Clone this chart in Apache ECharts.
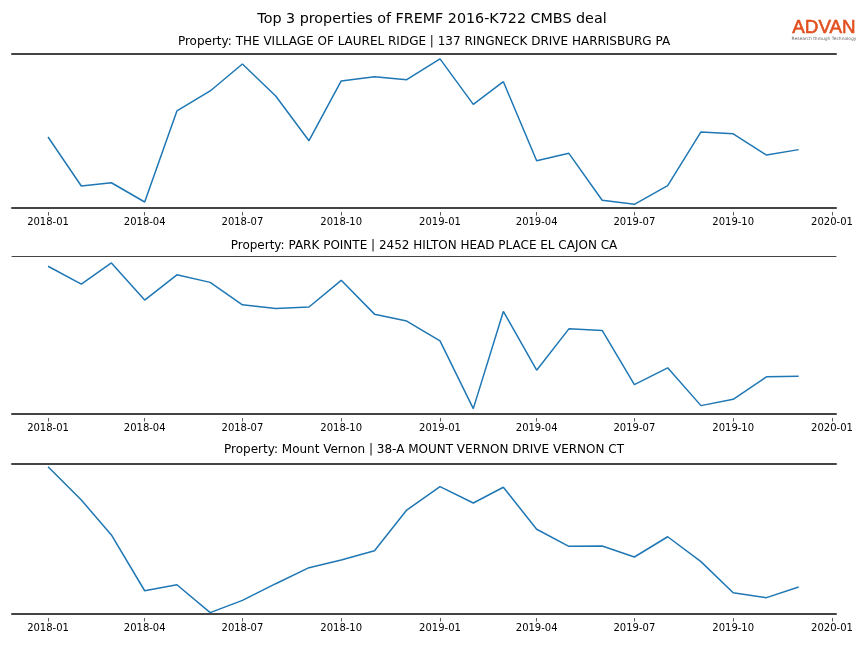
<!DOCTYPE html>
<html>
<head>
<meta charset="utf-8">
<script src="https://cdn.jsdelivr.net/npm/echarts@6/dist/echarts.min.js"></script>
<style>html,body{margin:0;padding:0;background:#fff}#c{width:864px;height:648px}</style>
</head>
<body>
<div id="c"></div>
<script>
const chartTitle = 'Top 3 properties of FREMF 2016-K722 CMBS deal';
const panelTitles = [
  'Property: THE VILLAGE OF LAUREL RIDGE | 137 RINGNECK DRIVE HARRISBURG PA',
  'Property: PARK POINTE | 2452 HILTON HEAD PLACE EL CAJON CA',
  'Property: Mount Vernon | 38-A MOUNT VERNON DRIVE VERNON CT'
];
const months = ['2018-01','2018-02','2018-03','2018-04','2018-05','2018-06','2018-07','2018-08','2018-09','2018-10','2018-11','2018-12',
                '2019-01','2019-02','2019-03','2019-04','2019-05','2019-06','2019-07','2019-08','2019-09','2019-10','2019-11','2019-12'];
const tickLabels = ['2018-01','2018-04','2018-07','2018-10','2019-01','2019-04','2019-07','2019-10','2020-01'];
// relative values (scale 0-100 of each panel)
const laurelRidge = [46.1,14.3,16.4,3.9,63.0,76.0,93.5,72.7,43.7,82.5,85.3,83.3,
                     96.8,67.3,82.0,30.7,35.5,5.0,2.4,14.5,49.4,48.2,34.4,37.9];
const parkPointe  = [93.5,82.2,95.6,72.1,88.1,83.3,69.1,66.8,67.7,84.6,63.2,58.8,
                     46.3,3.4,64.9,27.7,53.9,52.9,18.6,29.2,5.3,9.3,23.5,23.9];
const mountVernon = [98.2,76.0,52.7,15.5,19.5,0.9,9.1,20.2,30.9,36.0,42.2,69.3,
                     84.9,74.0,84.5,56.5,45.1,45.3,38.0,51.5,34.9,14.2,10.9,18.0];

const seriesList = [laurelRidge, parkPointe, mountVernon];
function ts(m){ const p = m.split('-'); return Date.UTC(+p[0], +p[1]-1, 1); }
function fmt(v){ const d = new Date(v); const mm = d.getUTCMonth()+1; return d.getUTCFullYear()+'-'+(mm<10?'0':'')+mm; }
const t0 = ts(months[0]), t1 = ts(months[months.length-1]);
const padL = (t1 - t0) * 0.048, padR = (t1 - t0) * 0.0497;
const xMin = t0 - padL, xMax = t1 + padR;
const tickVals = tickLabels.map(ts);

const grids = [
  {left: 12, right: 28, top: 54, height: 154},
  {left: 12, right: 28, top: 256, height: 158},
  {left: 12, right: 28, top: 464, height: 150}
];
const topLineW = [2, 1, 2];
const FONT = '"DejaVu Sans", sans-serif';
const spine = '#444';

const xAxes = [], yAxes = [], series = [];
grids.forEach((g, i) => {
  xAxes.push({type:'value', gridIndex:i, min:xMin, max:xMax, position:'bottom',
    axisLine:{show:true, lineStyle:{color:spine, width:2}}, axisTick:{show:false},
    axisLabel:{show:false}, splitLine:{show:false}});
  xAxes.push({type:'value', gridIndex:i, min:xMin, max:xMax, position:'bottom', offset:4,
    axisLine:{show:false},
    axisTick:{show:true, length:3.5, customValues:tickVals, lineStyle:{color:'#333', width:0.8}},
    axisLabel:{show:true, customValues:tickVals, formatter:fmt, fontSize:10, fontFamily:FONT, color:'#000', margin:5, hideOverlap:false, showMinLabel:true, showMaxLabel:true},
    splitLine:{show:false}});
  xAxes.push({type:'value', gridIndex:i, min:xMin, max:xMax, position:'top',
    axisLine:{show:true, lineStyle:{color:spine, width:topLineW[i]}}, axisTick:{show:false},
    axisLabel:{show:false}, splitLine:{show:false}});
  yAxes.push({type:'value', gridIndex:i, min:0, max:100, show:false, splitLine:{show:false}});
  series.push({type:'line', xAxisIndex:i*3, yAxisIndex:i, showSymbol:false, symbol:'none',
    lineStyle:{color:'#1f77b4', width:1.5}, itemStyle:{color:'#1f77b4'},
    data: months.map((m, k) => [ts(m), seriesList[i][k]]), animation:false});
});

const titleY = [42, 246, 450];
const graphic = [
  {type:'text', x:432, y:19, style:{text:chartTitle, font:'14.3px '+FONT, fill:'#000', align:'center', verticalAlign:'middle'}},
  {type:'text', x:824, y:28, style:{text:'ADVAN', font:'18.8px "Liberation Sans", sans-serif', fill:'#e2501f', stroke:'#e2501f', lineWidth:0.6, align:'center', verticalAlign:'middle'}},
  {type:'text', x:824, y:38.5, style:{text:'Research through Technology', font:'4.4px '+FONT, fill:'#666', align:'center', verticalAlign:'middle'}}
];
panelTitles.forEach((t, i) => graphic.push({type:'text', x:424, y:titleY[i],
  style:{text:t, font:'12px '+FONT, fill:'#000', align:'center', verticalAlign:'middle'}}));

const chart = echarts.init(document.getElementById('c'), null, {renderer:'canvas'});
chart.setOption({animation:false, backgroundColor:'#fff', grid:grids, xAxis:xAxes, yAxis:yAxes, series:series, graphic:graphic});
</script>
</body>
</html>
